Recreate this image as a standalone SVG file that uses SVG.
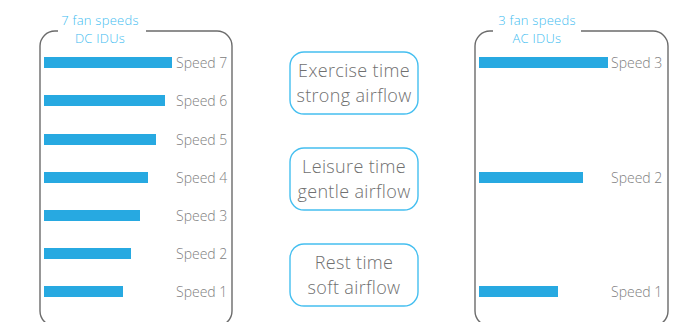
<svg xmlns="http://www.w3.org/2000/svg" width="687" height="322" viewBox="0 0 687 322">
<style>
.frame{fill:none;stroke:#6b6b6b;stroke-width:1.4}
.bar{fill:#27a9e1}
.lbl{font-family:"Open Sans","Noto Sans",sans-serif;font-size:14px;font-weight:300;fill:#808080}
.title{font-family:"Open Sans","Noto Sans",sans-serif;font-size:13px;font-weight:300;letter-spacing:0.25px;fill:#3fbdf0;text-anchor:middle}
.mode{fill:#fff;stroke:#45bff0;stroke-width:1.4}
.mtxt{font-family:"Open Sans","Noto Sans",sans-serif;font-size:18px;font-weight:300;letter-spacing:0.35px;fill:#707070;text-anchor:middle}
</style>
<rect width="687" height="322" fill="#fff"/>
<g id="dc-idus">
<path class="frame" d="M146,31 H217 A15,15 0 0 1 232,46 V311 A15,15 0 0 1 217,326 H55 A15,15 0 0 1 40,311 V46 A15,15 0 0 1 55,31 H58"/>
<text class="title" x="100" y="25">7 fan speeds</text>
<text class="title" x="100" y="43">DC IDUs</text>
<rect class="bar" x="44" y="57" width="128" height="11"/>
<rect class="bar" x="44" y="95" width="121" height="11"/>
<rect class="bar" x="44" y="134" width="112" height="11"/>
<rect class="bar" x="44" y="172" width="104" height="11"/>
<rect class="bar" x="44" y="210" width="96" height="11"/>
<rect class="bar" x="44" y="248" width="87" height="11"/>
<rect class="bar" x="44" y="286" width="79" height="11"/>
<text class="lbl" x="176" y="68">Speed 7</text>
<text class="lbl" x="176" y="106">Speed 6</text>
<text class="lbl" x="176" y="145">Speed 5</text>
<text class="lbl" x="176" y="183">Speed 4</text>
<text class="lbl" x="176" y="221">Speed 3</text>
<text class="lbl" x="176" y="259">Speed 2</text>
<text class="lbl" x="176" y="297">Speed 1</text>
</g>
<g id="exercise">
<rect class="mode" x="290" y="52" width="128" height="62" rx="14"/>
<text class="mtxt" x="354" y="77">Exercise time</text>
<text class="mtxt" x="354" y="102">strong airflow</text>
</g>
<g id="leisure">
<rect class="mode" x="290" y="148" width="128" height="62" rx="14"/>
<text class="mtxt" x="354" y="173">Leisure time</text>
<text class="mtxt" x="354" y="198">gentle airflow</text>
</g>
<g id="rest">
<rect class="mode" x="290" y="244" width="128" height="62" rx="14"/>
<text class="mtxt" x="354" y="269">Rest time</text>
<text class="mtxt" x="354" y="294">soft airflow</text>
</g>
<g id="ac-idus">
<path class="frame" d="M581,31 H653 A15,15 0 0 1 668,46 V311 A15,15 0 0 1 653,326 H490 A15,15 0 0 1 475,311 V46 A15,15 0 0 1 490,31 H493"/>
<text class="title" x="537" y="25">3 fan speeds</text>
<text class="title" x="537" y="43">AC IDUs</text>
<rect class="bar" x="479" y="57" width="129" height="11"/>
<rect class="bar" x="479" y="172" width="104" height="11"/>
<rect class="bar" x="479" y="286" width="79" height="11"/>
<text class="lbl" x="611" y="68">Speed 3</text>
<text class="lbl" x="611" y="183">Speed 2</text>
<text class="lbl" x="611" y="297">Speed 1</text>
</g>
<g id="connectors"></g>
</svg>
